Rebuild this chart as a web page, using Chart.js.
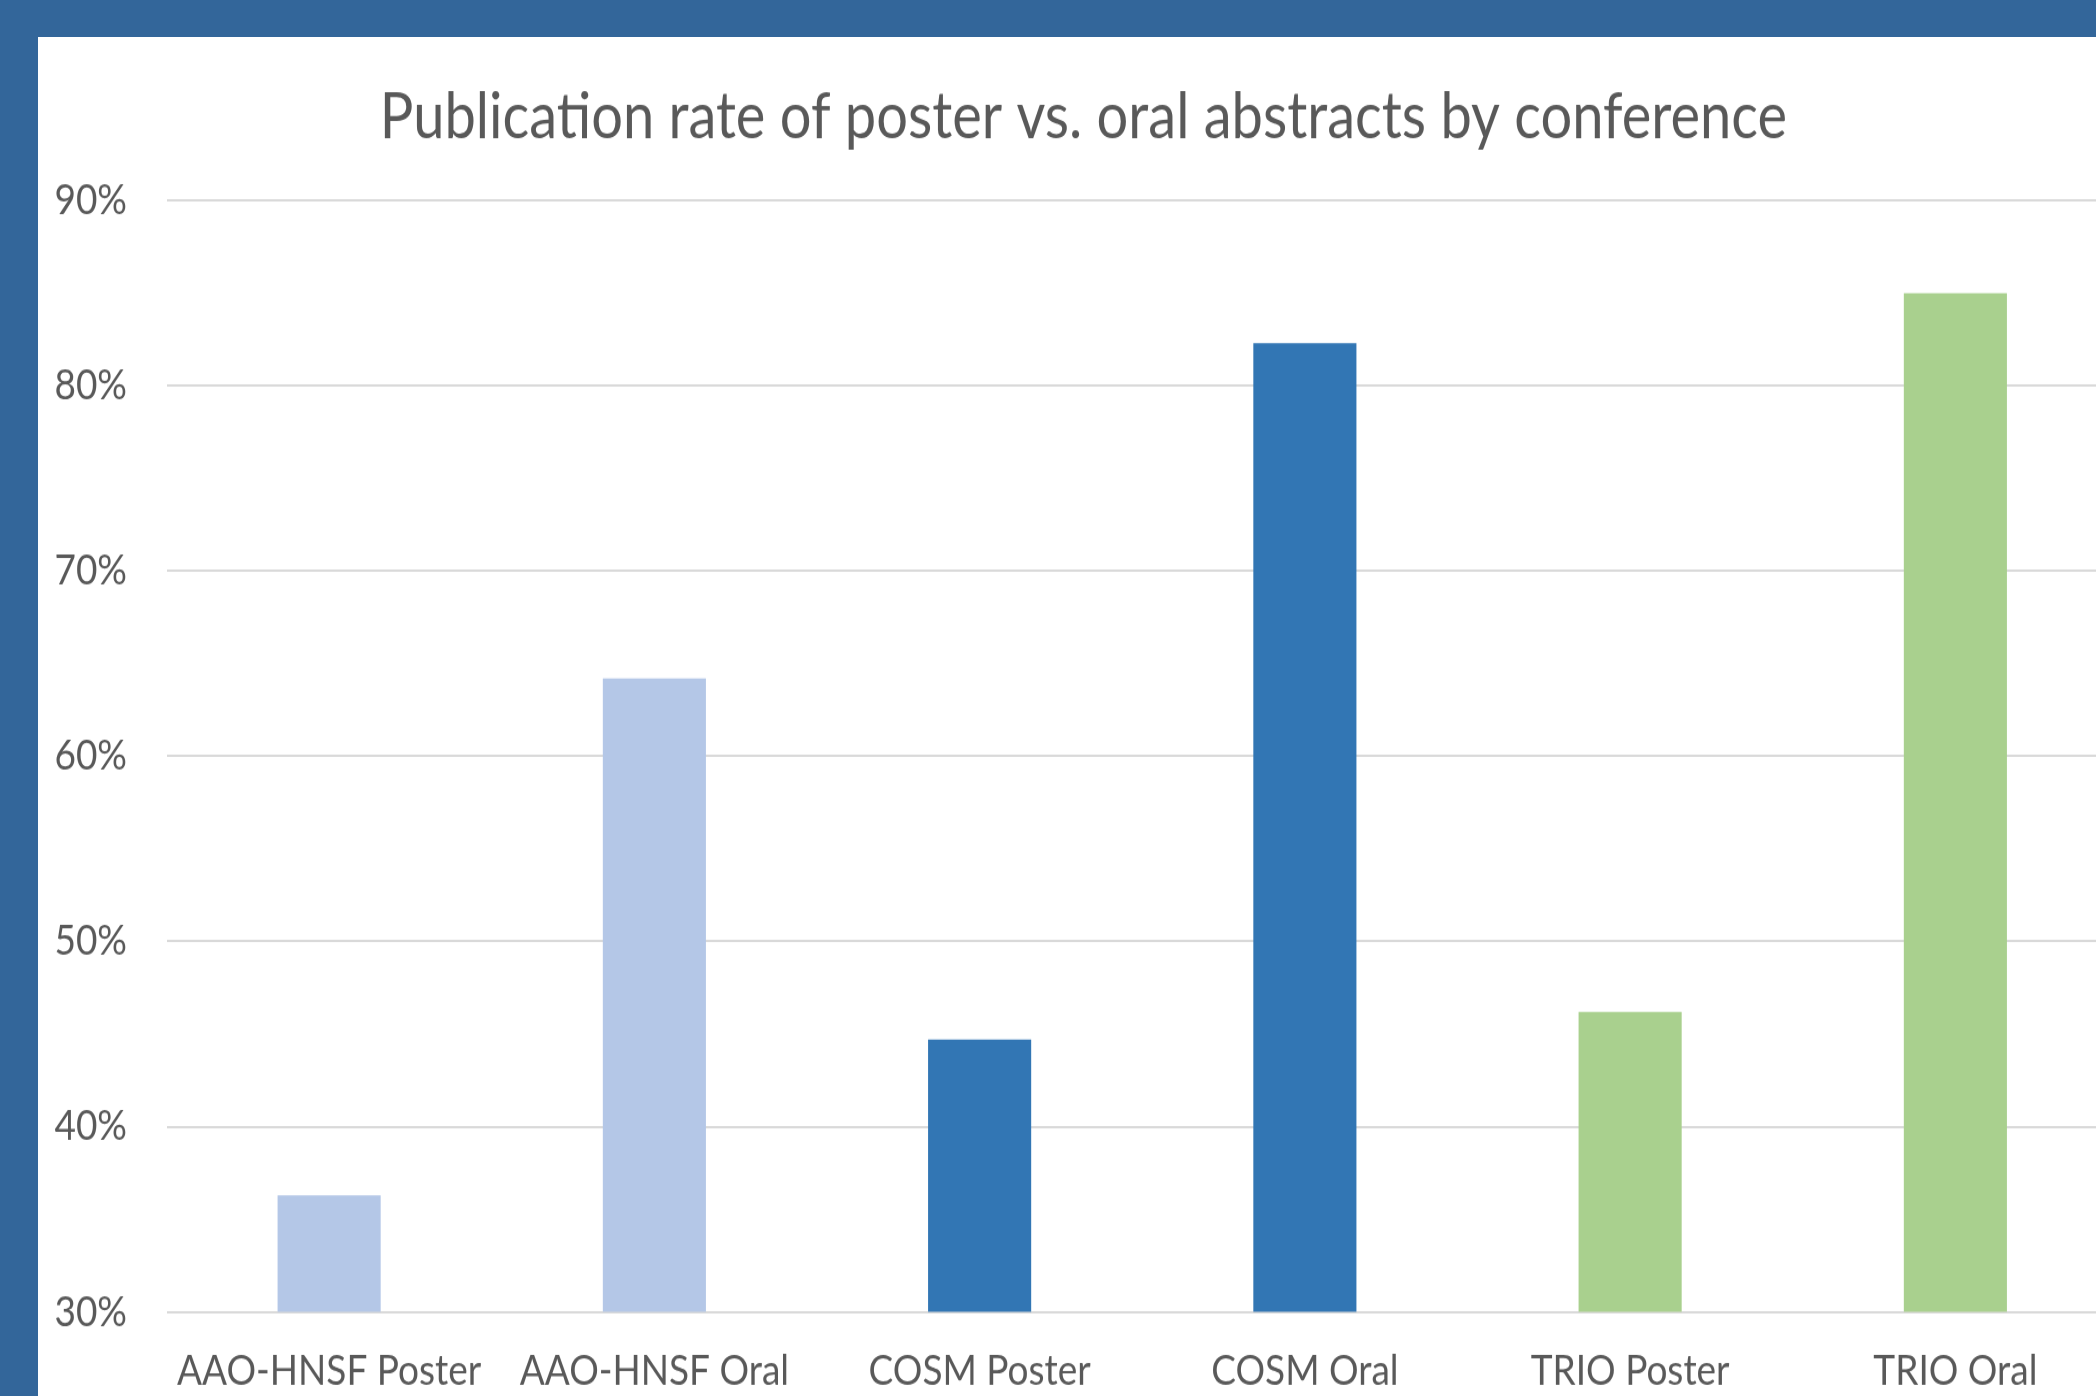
<!DOCTYPE html>
<html>
<head>
<meta charset="utf-8">
<title>Publication rate by conference</title>
<script src="https://cdn.jsdelivr.net/npm/chart.js@4"></script>
<style>
  html, body {
    margin: 0;
    padding: 0;
    width: 2096px;
    height: 1396px;
    overflow: hidden;
    background: #33669a;
  }
  #card {
    position: absolute;
    left: 38px;
    top: 37px;
    width: 2200px;
    height: 1500px;
    background: #ffffff;
  }
  #pubChart {
    position: absolute;
    left: 0;
    top: 0;
    transform: scaleY(1.15);
    transform-origin: 0 0;
  }
</style>
</head>
<body>
<div id="card">
  <canvas id="pubChart" width="2091" height="1228"></canvas>
</div>
<script>
// conference / presentation type
const labels = ['AAO-HNSF Poster', 'AAO-HNSF Oral', 'COSM Poster', 'COSM Oral', 'TRIO Poster', 'TRIO Oral'];
// percent of abstracts later published
const rates = [36.3, 64.2, 44.7, 82.3, 46.2, 85.0];
const barColors = ['#b4c7e7', '#b4c7e7', '#3276b4', '#3276b4', '#a9d08e', '#a9d08e'];
const yTicks = [30, 40, 50, 60, 70, 80, 90];

const textColor = '#595959';
const gridColor = '#d9d9d9';

const ctx = document.getElementById('pubChart').getContext('2d');
new Chart(ctx, {
    type: 'bar',
    data: {
        labels: labels,
        datasets: [{
            label: 'Publication rate',
            data: rates,
            backgroundColor: barColors,
            borderWidth: 0,
            barPercentage: 0.317,
            categoryPercentage: 1
        }]
    },
    options: {
        responsive: false,
        animation: false,
        devicePixelRatio: 1,
        layout: {
            padding: { left: 11, right: 11, top: 0, bottom: 17 }
        },
        plugins: {
            legend: { display: false },
            tooltip: { enabled: false },
            title: {
                display: true,
                text: 'Publication rate of poster vs. oral abstracts by conference',
                color: textColor,
                font: { family: 'Lato', size: 56, weight: 'normal' },
                padding: { top: 36, bottom: 39 }
            }
        },
        scales: {
            x: {
                grid: { display: false, drawTicks: false },
                border: { display: false },
                ticks: {
                    color: textColor,
                    font: { family: 'Lato', size: 37 },
                    padding: 29,
                    maxRotation: 0,
                    autoSkip: false
                }
            },
            y: {
                min: yTicks[0],
                max: yTicks[yTicks.length - 1],
                afterBuildTicks: axis => {
                    axis.ticks = yTicks.map(v => ({ value: v }));
                },
                afterFit: axis => {
                    axis.width = 117.5;
                },
                grid: { color: gridColor, lineWidth: 2, drawTicks: false },
                border: { display: false },
                ticks: {
                    color: textColor,
                    font: { family: 'Lato', size: 37 },
                    padding: 39.5,
                    callback: v => v + '%'
                }
            }
        }
    }
});
</script>
</body>
</html>
